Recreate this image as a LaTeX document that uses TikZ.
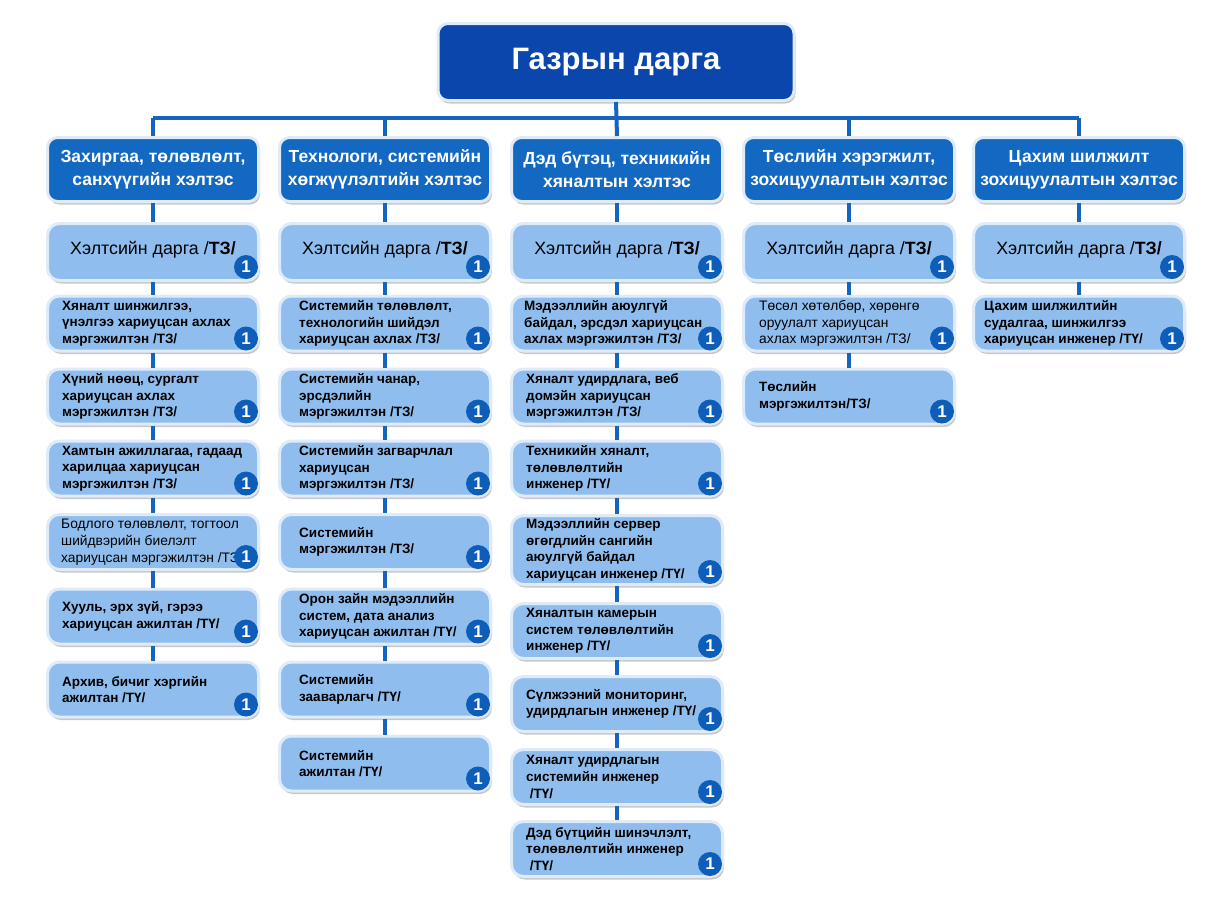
\documentclass[tikz,border=0pt]{standalone}
\usepackage{fontspec}
\setmainfont{Liberation Sans}
\usetikzlibrary{shadows}

\definecolor{topblue}{HTML}{0A46AB}
\definecolor{headblue}{HTML}{1368C2}
\definecolor{cellblue}{HTML}{8FBEEE}
\definecolor{edgeblue}{HTML}{DFEBF8}
\definecolor{badgeblue}{HTML}{0E5DB8}
\definecolor{linkblue}{HTML}{1565C0}

\tikzset{
  boxshadow/.style={drop shadow={shadow xshift=1.5pt, shadow yshift=-3pt, opacity=0.22, fill=black}},
  topbox/.style={rectangle, rounded corners=10pt, fill=topblue, draw=edgeblue, line width=3pt,
    minimum width=356pt, minimum height=77pt, text=white,
    font=\bfseries\fontsize{31pt}{36pt}\selectfont, boxshadow},
  deptbox/.style={rectangle, rounded corners=10pt, fill=headblue, draw=edgeblue, line width=3pt,
    minimum width=211pt, minimum height=64pt, text=white, align=center,
    font=\bfseries\fontsize{17.5pt}{23pt}\selectfont, boxshadow},
  chiefbox/.style={rectangle, rounded corners=12pt, fill=cellblue, draw=edgeblue, line width=3pt,
    minimum width=211pt, minimum height=57pt, text height=13pt, text depth=9pt,
    font=\fontsize{17.8pt}{20pt}\selectfont, boxshadow},
  cellbox/.style={rectangle, rounded corners=12pt, fill=cellblue, draw=edgeblue, line width=3pt,
    minimum width=211pt, boxshadow},
  celltext/.style={anchor=west, inner sep=0pt, align=left,
    font=\bfseries\fontsize{13.5pt}{16.7pt}\selectfont},
  plaintext/.style={font=\fontsize{13.8pt}{16.7pt}\selectfont},
  badge/.style={circle, fill=badgeblue, text=white, inner sep=0pt, minimum size=24pt,
    font=\bfseries\fontsize{17pt}{17pt}\selectfont},
  link/.style={draw=linkblue, line width=4pt},
}

% one unit box: [text options] name, x, y, height, text
\newcommand{\unitbox}[6][]{%
  \node[cellbox, minimum height=#5] (#2) at (#3,#4) {};
  \node[celltext, #1] (#2-t) at ([xshift=16pt]#2.west) {#6};
  \node[badge] (#2-n) at ([xshift=-14pt,yshift=14pt]#2.south east) {1};
}

\begin{document}
\begin{tikzpicture}[x=1pt, y=-1pt]
  \useasboundingbox (0,0) rectangle (1228,905);

  % Head of office
  \node[topbox] (top) at (616,62) {Газрын дарга};
  \coordinate (bar) at (616,118);

  % Departments
  \node[deptbox] (h1) at (153,169.5) {Захиргаа, төлөвлөлт,\\санхүүгийн хэлтэс};
  \node[deptbox] (h2) at (385,169.5) {Технологи, системийн\\хөгжүүлэлтийн хэлтэс};
  \node[deptbox] (h3) at (617,169.5) {Дэд бүтэц, техникийн\\хяналтын хэлтэс};
  \node[deptbox] (h4) at (849,169.5) {Төслийн хэрэгжилт,\\зохицуулалтын хэлтэс};
  \node[deptbox] (h5) at (1079,169.5) {Цахим шилжилт\\зохицуулалтын хэлтэс};

  % Department chiefs
  \node[chiefbox] (c1) at (153,252) {Хэлтсийн дарга /\textbf{ТЗ/}};
  \node[chiefbox] (c2) at (385,252) {Хэлтсийн дарга /\textbf{ТЗ/}};
  \node[chiefbox] (c3) at (617,252) {Хэлтсийн дарга /\textbf{ТЗ/}};
  \node[chiefbox] (c4) at (849,252) {Хэлтсийн дарга /\textbf{ТЗ/}};
  \node[chiefbox] (c5) at (1079,252) {Хэлтсийн дарга /\textbf{ТЗ/}};
  \foreach \c in {c1,c2,c3,c4,c5}
    \node[badge] (\c-n) at ([xshift=-14pt,yshift=15pt]\c.south east) {1};

  % Column 1
  \unitbox{s11}{153}{323.5}{55pt}{Хяналт шинжилгээ,\\үнэлгээ хариуцсан ахлах\\мэргэжилтэн /ТЗ/}
  \unitbox{s12}{153}{396.5}{55pt}{Хүний нөөц, сургалт\\хариуцсан ахлах\\мэргэжилтэн /ТЗ/}
  \unitbox{s13}{153}{468.5}{55pt}{Хамтын ажиллагаа, гадаад\\харилцаа хариуцсан\\мэргэжилтэн /ТЗ/}
  \unitbox[plaintext, xshift=-1pt]{s14}{153}{542}{55pt}{Бодлого төлөвлөлт, тогтоол\\шийдвэрийн биелэлт\\хариуцсан мэргэжилтэн /ТЗ/}
  \unitbox{s15}{153}{616.5}{55pt}{Хууль, эрх зүй, гэрээ\\хариуцсан ажилтан /ТҮ/}
  \unitbox{s16}{153}{689.5}{55pt}{Архив, бичиг хэргийн\\ажилтан /ТҮ/}

  % Column 2
  \unitbox[xshift=5pt]{s21}{385}{323.5}{55pt}{Системийн төлөвлөлт,\\технологийн шийдэл\\хариуцсан ахлах /ТЗ/}
  \unitbox[xshift=5pt]{s22}{385}{396.5}{55pt}{Системийн чанар,\\эрсдэлийн\\мэргэжилтэн /ТЗ/}
  \unitbox[xshift=5pt]{s23}{385}{468.5}{55pt}{Системийн загварчлал\\хариуцсан\\мэргэжилтэн /ТЗ/}
  \unitbox[xshift=5pt]{s24}{385}{542}{55pt}{Системийн\\мэргэжилтэн /ТЗ/}
  \unitbox[xshift=5pt]{s25}{385}{616.5}{55pt}{Орон зайн мэдээллийн\\систем, дата анализ\\хариуцсан ажилтан /ТҮ/}
  \unitbox[xshift=5pt]{s26}{385}{689.5}{55pt}{Системийн\\зааварлагч /ТҮ/}
  \unitbox[xshift=5pt]{s27}{385}{763.5}{55pt}{Системийн\\ажилтан /ТҮ/}

  % Column 3
  \unitbox[xshift=-2pt]{s31}{617}{323.5}{55pt}{Мэдээллийн аюулгүй\\байдал, эрсдэл хариуцсан\\ахлах мэргэжилтэн /ТЗ/}
  \unitbox{s32}{617}{396.5}{55pt}{Хяналт удирдлага, веб\\домэйн хариуцсан\\мэргэжилтэн /ТЗ/}
  \unitbox{s33}{617}{468.5}{55pt}{Техникийн хяналт,\\төлөвлөлтийн\\инженер /ТҮ/}
  \unitbox{s34}{617}{550}{69pt}{Мэдээллийн сервер\\өгөгдлийн сангийн\\аюулгүй байдал\\хариуцсан инженер /ТҮ/}
  \unitbox{s35}{617}{631}{55pt}{Хяналтын камерын\\систем төлөвлөлтийн\\инженер /ТҮ/}
  \unitbox{s36}{617}{704}{55pt}{Сүлжээний мониторинг,\\удирдлагын инженер /ТҮ/}
  \unitbox{s37}{617}{777}{55pt}{Хяналт удирдлагын\\системийн инженер\\\ /ТҮ/}
  \unitbox{s38}{617}{849}{55pt}{Дэд бүтцийн шинэчлэлт,\\төлөвлөлтийн инженер\\\ /ТҮ/}

  % Column 4
  \unitbox[plaintext, xshift=1pt]{s41}{849}{323.5}{55pt}{Төсөл хөтөлбөр, хөрөнгө\\оруулалт хариуцсан\\ахлах мэргэжилтэн /ТЗ/}
  \unitbox[xshift=1pt]{s42}{849}{396.5}{55pt}{Төслийн\\мэргэжилтэн/ТЗ/}

  % Column 5
  \unitbox[xshift=-4pt]{s51}{1079}{323.5}{55pt}{Цахим шилжилтийн\\судалгаа, шинжилгээ\\хариуцсан инженер /ТҮ/}

  % Connectors
  \draw[link] (top.south) -- (h3.north);
  \draw[link] (h1.north |- bar) -- (h5.north |- bar);
  \foreach \h in {h1,h2,h4,h5}
    \draw[link] (\h.north) -- (\h.north |- bar);
  \foreach \a/\b in {h1/c1,c1/s11,s11/s12,s12/s13,s13/s14,s14/s15,s15/s16,
                     h2/c2,c2/s21,s21/s22,s22/s23,s23/s24,s24/s25,s25/s26,s26/s27,
                     h3/c3,c3/s31,s31/s32,s32/s33,s33/s34,s34/s35,s35/s36,s36/s37,s37/s38,
                     h4/c4,c4/s41,s41/s42,
                     h5/c5,c5/s51}
    \draw[link] (\a.south) -- (\b.north);
\end{tikzpicture}
\end{document}
